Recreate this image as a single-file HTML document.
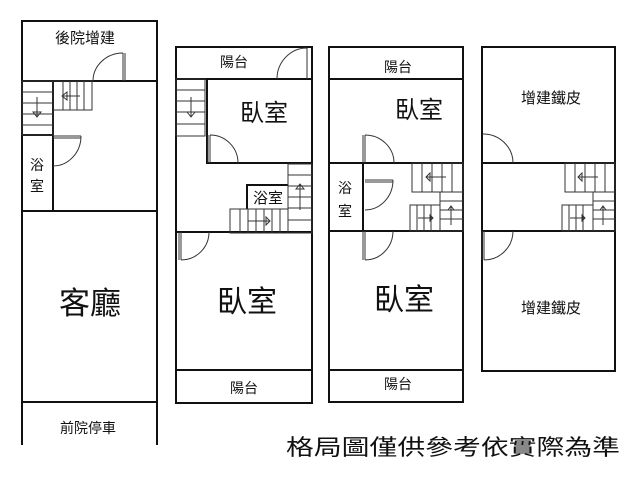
<!DOCTYPE html>
<html><head><meta charset="utf-8"><style>
html,body{margin:0;padding:0;background:#fff;width:640px;height:480px;overflow:hidden}
text{font-family:"Liberation Sans","Noto Sans CJK TC",sans-serif;fill:#111}
</style></head><body>
<svg width="640" height="480" viewBox="0 0 640 480" xmlns="http://www.w3.org/2000/svg">
<g fill="none" stroke="#111" stroke-width="2">
<path d="M22,445 V21 H157 V445"/>
<line x1="22" y1="81" x2="157" y2="81"/>
<line x1="22" y1="211" x2="157" y2="211"/>
<line x1="22" y1="402" x2="157" y2="402"/>
<line x1="53" y1="81" x2="53" y2="211"/>
<line x1="22" y1="135" x2="53" y2="135"/>
<rect x="176" y="47" width="136" height="356"/>
<line x1="176" y1="79" x2="312" y2="79"/>
<path d="M207,79 V163 H312"/>
<line x1="176" y1="232" x2="312" y2="232"/>
<line x1="176" y1="370" x2="312" y2="370"/>
<path d="M247,209 V185 H288"/>
<rect x="329" y="47" width="134" height="355"/>
<line x1="329" y1="79" x2="463" y2="79"/>
<line x1="329" y1="163" x2="463" y2="163"/>
<line x1="329" y1="231" x2="463" y2="231"/>
<line x1="329" y1="370" x2="463" y2="370"/>
<line x1="363" y1="163" x2="363" y2="231"/>
<rect x="482" y="47" width="133" height="324"/>
<line x1="482" y1="163" x2="615" y2="163"/>
<line x1="482" y1="231" x2="615" y2="231"/>
</g>
<g fill="none" stroke="#333" stroke-width="1">
<rect x="22" y="81" width="31" height="54"/>
<path d="M22,92H53M22,103H53M22,114H53M22,125H53"/>
<path d="M37,97V117M33,112L37,117L41,112Z"/>
<rect x="53" y="81" width="39" height="29"/>
<path d="M63,81V110M70,81V110M77,81V110M84,81V110"/>
<path d="M62,96H80M67,92L62,96L67,100Z"/>
<path d="M123,53V81M125,53V81M93,81A30,28 0 0 1 123,53"/>
<path d="M53,136H81M53,138H81M81,136A28,30 0 0 1 53,166"/>
<rect x="176" y="79" width="29" height="57"/>
<path d="M176,90H205M176,101H205M176,112H205M176,124H205"/>
<path d="M191,97V117M187,112L191,117L195,112Z"/>
<rect x="288" y="164" width="24" height="69"/>
<path d="M288,175H312M288,186H312M288,197H312M288,208H312M288,220H312"/>
<path d="M300,210V184M296,189L300,184L304,189Z"/>
<rect x="230" y="209" width="58" height="24"/>
<path d="M240,209V233M248,209V233M256,209V233M264,209V233M272,209V233M280,209V233"/>
<path d="M248,221H270M266,217L270,221L266,225Z"/>
<path d="M307,48A30,31 0 0 0 277,79M307,48V79"/>
<path d="M208,135V163M210,135V163M210,135A28,28 0 0 1 238,163"/>
<path d="M179,232V260M181,232V260M209,232A28,28 0 0 1 181,260"/>
<rect x="412" y="163" width="51" height="29"/>
<path d="M422,163V192M432,163V192M442,163V192M452,163V192"/>
<path d="M426,177H446M430,173L426,177L430,181Z"/>
<rect x="440" y="192" width="23" height="39"/>
<path d="M440,201H463M440,210H463M440,219H463"/>
<path d="M451,225V206M448,210L451,206L454,210Z"/>
<rect x="410" y="205" width="30" height="26"/>
<path d="M417,205V231M424,205V231M431,205V231"/>
<path d="M418,218H433M430,215L433,218L430,221Z"/>
<path d="M363,135V163M365,135V163M365,135A29,28 0 0 1 394,163"/>
<path d="M365,180H393M365,182H393M393,180A28,30 0 0 1 365,210"/>
<path d="M363,231V260M365,231V260M393,231A28,29 0 0 1 365,260"/>
<rect x="565" y="163" width="50" height="29"/>
<path d="M575,163V192M585,163V192M595,163V192M605,163V192"/>
<path d="M578,177H598M582,173L578,177L582,181Z"/>
<rect x="593" y="192" width="22" height="39"/>
<path d="M593,201H615M593,210H615M593,219H615"/>
<path d="M603,225V206M600,210L603,206L606,210Z"/>
<rect x="562" y="205" width="31" height="26"/>
<path d="M569,205V231M576,205V231M583,205V231"/>
<path d="M570,218H585M582,215L585,218L582,221Z"/>
<path d="M483,134A30,29 0 0 1 513,163"/>
<path d="M482,231V260M484,231V260M513,231A29,29 0 0 1 484,260"/>
</g>
<g text-anchor="middle">
<text x="85" y="43" font-size="15">後院增建</text>
<text x="37" y="170" font-size="14">浴</text>
<text x="37" y="191" font-size="14">室</text>
<text x="90" y="314" font-size="31">客廳</text>
<text x="88" y="433" font-size="14">前院停車</text>
<text x="234" y="67" font-size="14">陽台</text>
<text x="264" y="121" font-size="24">臥室</text>
<text x="268" y="203" font-size="15">浴室</text>
<text x="247" y="312" font-size="30">臥室</text>
<text x="244" y="393" font-size="14">陽台</text>
<text x="398" y="72" font-size="14">陽台</text>
<text x="419" y="118" font-size="24">臥室</text>
<text x="345" y="193" font-size="14">浴</text>
<text x="345" y="216" font-size="14">室</text>
<text x="404" y="310" font-size="30">臥室</text>
<text x="398" y="389" font-size="14">陽台</text>
<text x="551" y="103" font-size="15">增建鐵皮</text>
<text x="551" y="313" font-size="15">增建鐵皮</text>
</g>
<text x="286" y="455" font-size="22" textLength="334" lengthAdjust="spacingAndGlyphs">格局圖僅供參考依實際為準</text>
</svg>
</body></html>
